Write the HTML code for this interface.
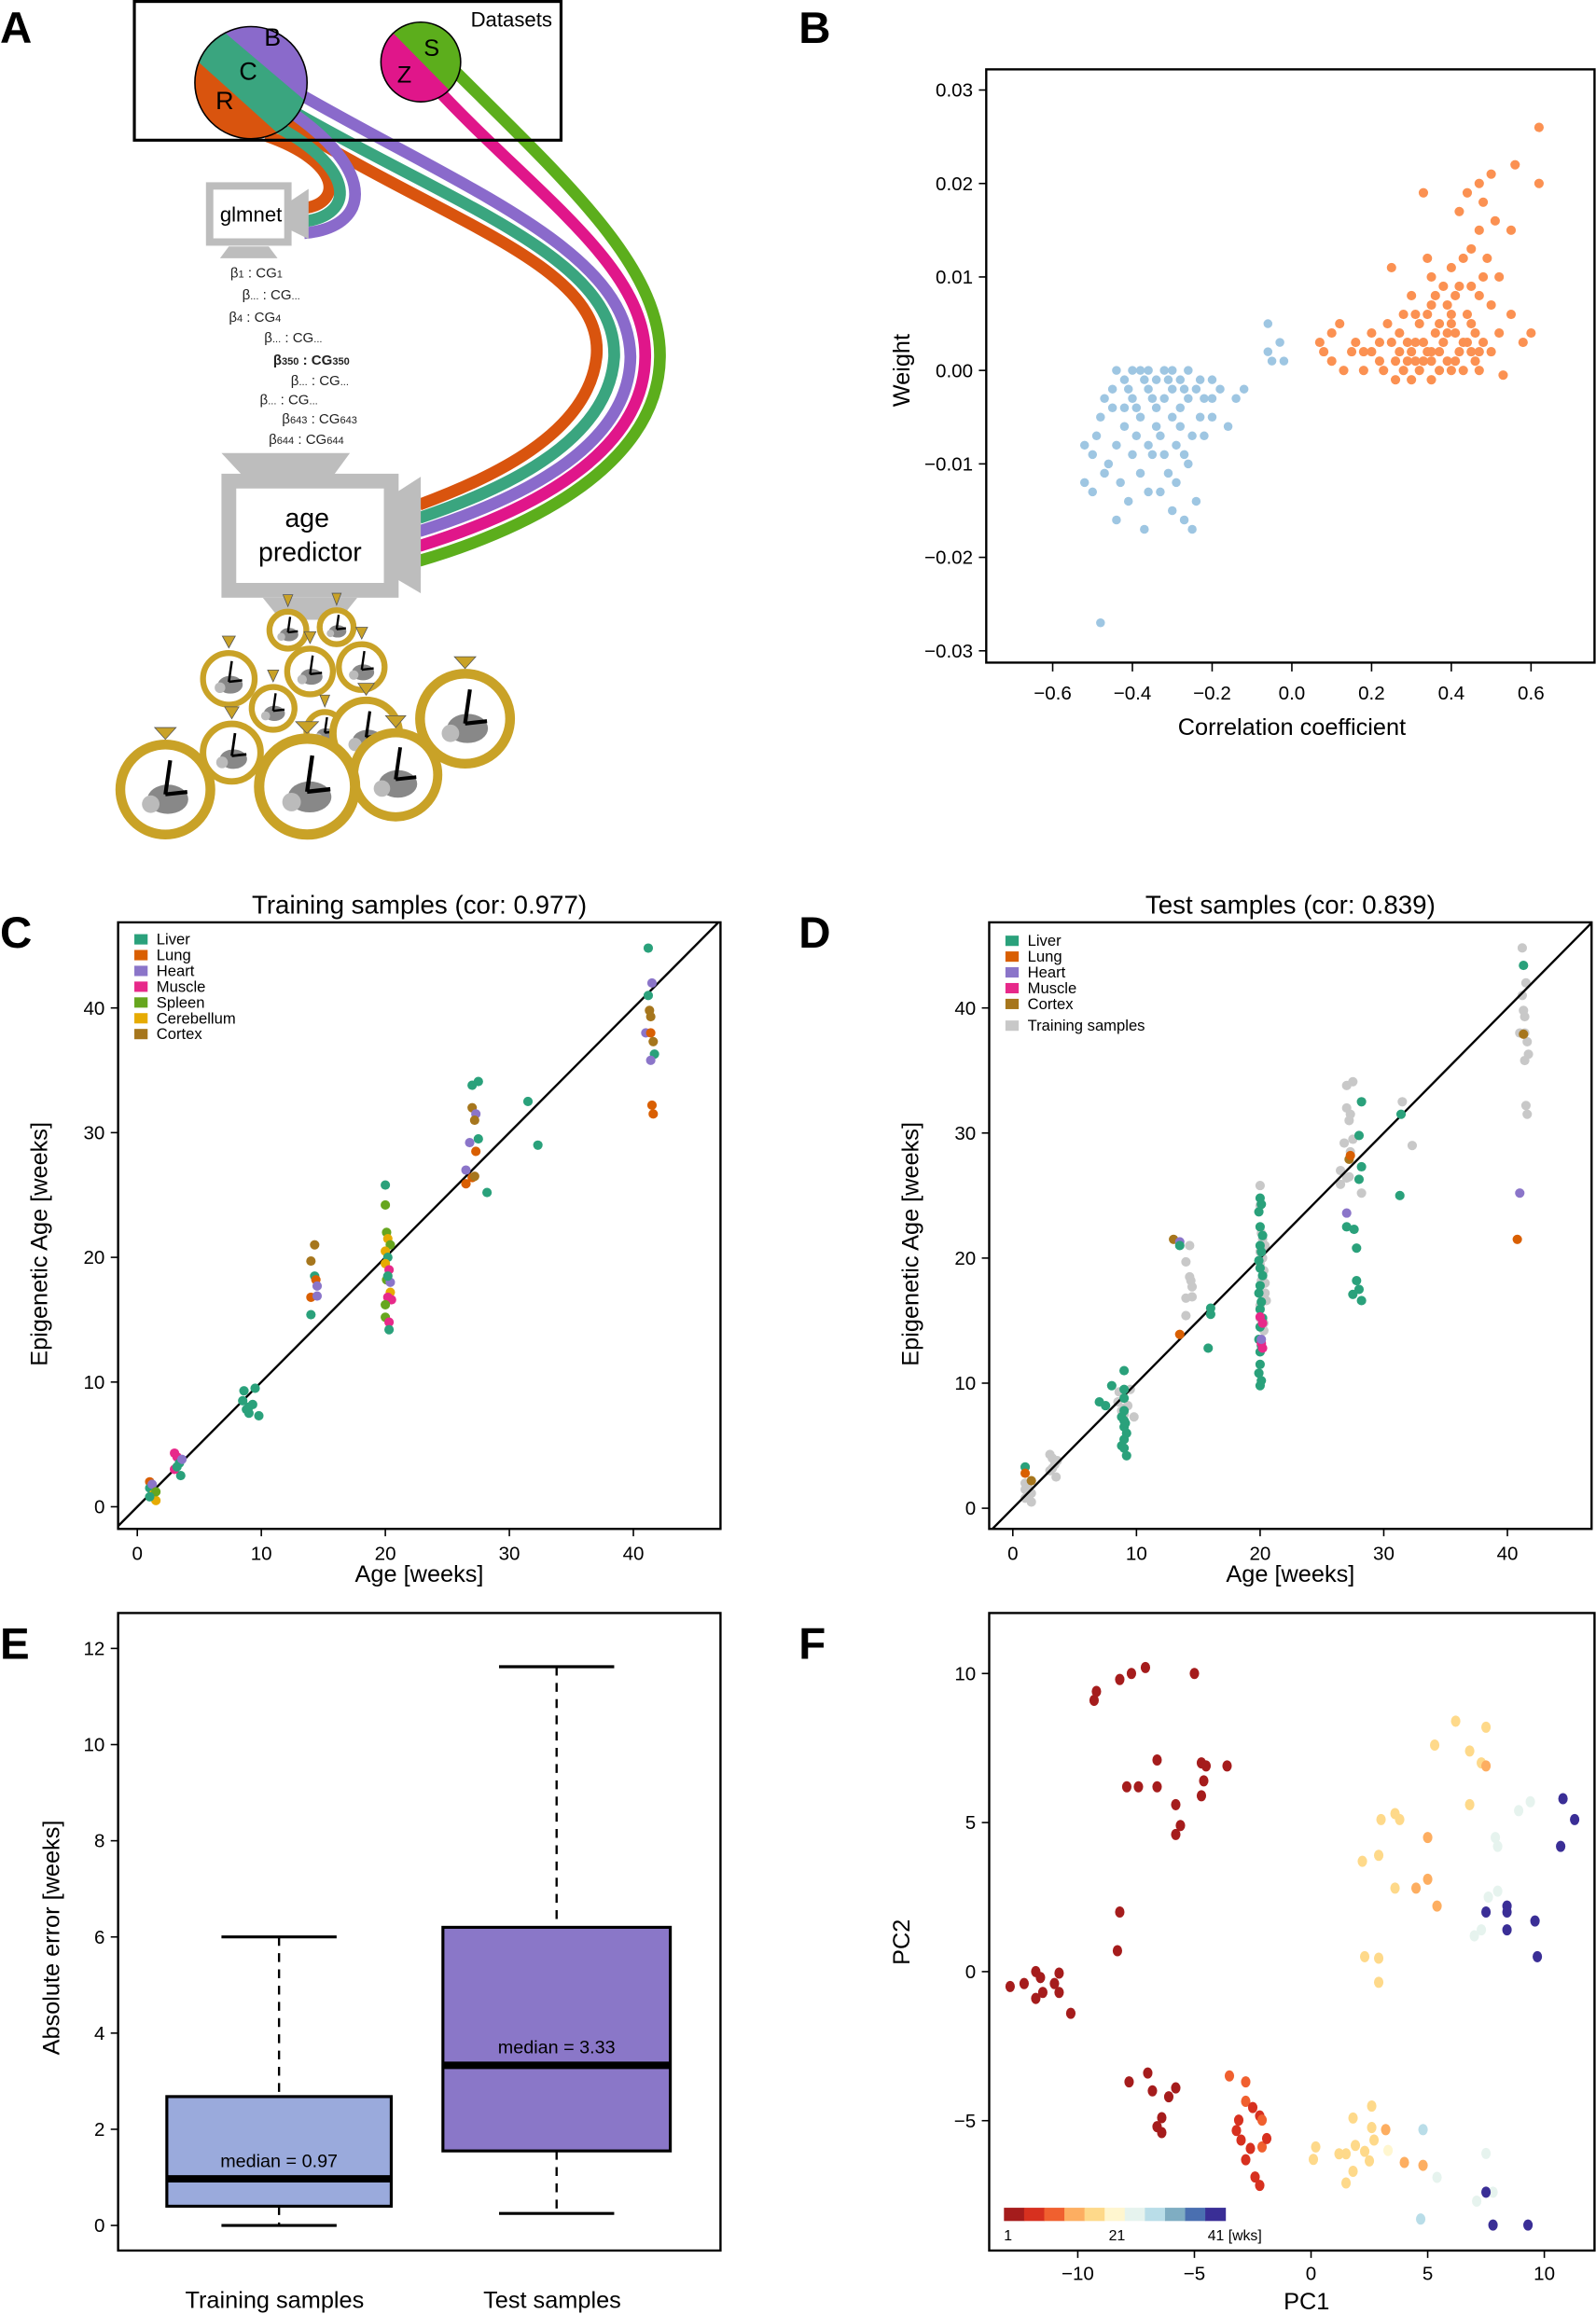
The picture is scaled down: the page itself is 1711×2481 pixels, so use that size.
<!DOCTYPE html>
<html><head><meta charset="utf-8">
<style>
html,body{margin:0;padding:0;background:#fff;}
svg{display:block;font-family:"Liberation Sans",Arial,sans-serif;}
</style></head>
<body>
<svg id="fig" width="1711" height="2481" viewBox="0 0 1081 1568" preserveAspectRatio="none" xmlns="http://www.w3.org/2000/svg">
<!-- panel letters -->
<g font-weight="bold" font-size="30">
<text x="0" y="29">A</text>
<text x="541" y="29">B</text>
<text x="0" y="642">C</text>
<text x="541" y="642">D</text>
<text x="0" y="1124">E</text>
<text x="541" y="1124">F</text>
</g>

<!-- PANEL A diagram -->
<g id="panelA">
 <g fill="none" stroke-width="8" stroke-linecap="butt">
  <path d="M196,84 C300,150 410,180 404,242 C398,295 330,325 284,342" stroke="#d9540e"/>
  <path d="M196,74 C310,140 418,175 416,242 C412,302 334,334 284,351" stroke="#3aa57f"/>
  <path d="M200,62 C318,130 426,170 427,242 C426,308 338,343 284,360" stroke="#8a6acb"/>
  <path d="M292,56 C360,130 438,180 437,242 C436,314 342,352 284,370" stroke="#e0168a"/>
  <path d="M304,44 C380,120 448,180 447,242 C446,320 346,362 284,380" stroke="#5cae1c"/>
  <path d="M180,92 C232,110 232,138 206,141" stroke="#d9540e"/>
  <path d="M188,86 C242,115 240,146 206,150" stroke="#3aa57f"/>
  <path d="M200,78 C256,118 250,154 206,158" stroke="#8a6acb"/>
 </g>
 <rect x="91" y="1" width="289" height="94" fill="none" stroke="#000" stroke-width="2"/>
 <text x="374" y="18" font-size="14" text-anchor="end">Datasets</text>
 <g>
  <clipPath id="cb"><circle cx="170" cy="56" r="38"/></clipPath>
  <g clip-path="url(#cb)">
   <rect x="120" y="10" width="110" height="100" fill="#3aa57f"/>
   <polygon points="138,10 230,10 230,88" fill="#8a6acb"/>
   <polygon points="120,29 230,128 120,128" fill="#d9540e"/>
  </g>
  <circle cx="170" cy="56" r="38" fill="none" stroke="#000" stroke-width="1"/>
  <text x="179" y="31" font-size="17">B</text>
  <text x="162" y="54" font-size="17">C</text>
  <text x="146" y="74" font-size="17">R</text>
 </g>
 <g>
  <clipPath id="cs"><circle cx="285" cy="42" r="27"/></clipPath>
  <g clip-path="url(#cs)">
   <rect x="255" y="12" width="60" height="60" fill="#e0168a"/>
   <polygon points="256,12 315,12 315,72" fill="#5cae1c"/>
  </g>
  <circle cx="285" cy="42" r="27" fill="none" stroke="#000" stroke-width="1"/>
  <text x="287" y="38" font-size="16">S</text>
  <text x="269" y="56" font-size="16">Z</text>
 </g>
 <g>
  <rect x="142" y="126" width="53" height="38" fill="#fff" stroke="#bdbdbd" stroke-width="5"/>
  <polygon points="197,136 209,128 209,162 197,156" fill="#bdbdbd"/>
  <polygon points="155,167 182,167 188,175 149,175" fill="#bdbdbd"/>
  <text x="170" y="150" font-size="14" text-anchor="middle">glmnet</text>
 </g>
 <g font-size="9.5" fill="#222">
  <text x="156" y="188">β<tspan font-size="7">1</tspan> : CG<tspan font-size="7">1</tspan></text>
  <text x="164" y="203">β<tspan font-size="7">...</tspan> : CG<tspan font-size="7">...</tspan></text>
  <text x="155" y="218">β<tspan font-size="7">4</tspan> : CG<tspan font-size="7">4</tspan></text>
  <text x="179" y="232">β<tspan font-size="7">...</tspan> : CG<tspan font-size="7">...</tspan></text>
  <text x="185" y="247" font-weight="bold">β<tspan font-size="7">350</tspan> : CG<tspan font-size="7">350</tspan></text>
  <text x="197" y="261">β<tspan font-size="7">...</tspan> : CG<tspan font-size="7">...</tspan></text>
  <text x="176" y="274">β<tspan font-size="7">...</tspan> : CG<tspan font-size="7">...</tspan></text>
  <text x="191" y="287">β<tspan font-size="7">643</tspan> : CG<tspan font-size="7">643</tspan></text>
  <text x="182" y="301">β<tspan font-size="7">644</tspan> : CG<tspan font-size="7">644</tspan></text>
 </g>
 <g>
  <polygon points="150,307 237,307 226,322 164,322" fill="#bdbdbd"/>
  <rect x="155" y="326" width="110" height="74" fill="#fff" stroke="#bdbdbd" stroke-width="10"/>
  <polygon points="268,334 285,323 285,402 268,392" fill="#bdbdbd"/>
  <polygon points="178,405 242,405 230,420 190,420" fill="#bdbdbd"/>
  <text x="208" y="357" font-size="18" text-anchor="middle">age</text>
  <text x="210" y="380" font-size="18" text-anchor="middle">predictor</text>
 </g>
 <g id="mice"></g>
</g>

<g id="charts"></g>
</svg>

<script>
// ===== Panel B data =====
const bNegCorr = [-0.48,-0.52,-0.52,-0.50,-0.49,-0.48,-0.47,-0.45,-0.44,-0.42,-0.40,-0.38,-0.36,-0.34,-0.32,-0.30,-0.28,-0.26,-0.24,-0.22,-0.20,-0.18,-0.16,-0.14,-0.12,-0.06,-0.06,-0.05,-0.03,-0.02,-0.40,-0.38,-0.36,-0.34,-0.32,-0.30,-0.28,-0.26,-0.42,-0.44,-0.46,-0.40,-0.38,-0.36,-0.35,-0.33,-0.31,-0.29,-0.27,-0.25,-0.23,-0.43,-0.41,-0.44,-0.30,-0.27,-0.24,-0.37,-0.25,-0.50,-0.47,-0.39,-0.34,-0.30,-0.28,-0.22,-0.20,-0.33,-0.42,-0.36,-0.29,-0.26,-0.20,-0.32,-0.41,-0.37,-0.35,-0.31,-0.27,-0.23,-0.45,-0.39];
const bNegWeight = [-0.027,-0.012,-0.008,-0.009,-0.007,-0.005,-0.003,-0.002,0.000,-0.001,0.000,0.000,0.000,-0.001,0.000,0.000,-0.001,0.000,-0.002,-0.003,-0.003,-0.002,-0.006,-0.003,-0.002,0.005,0.002,0.001,0.003,0.001,-0.003,-0.005,-0.002,-0.004,-0.003,-0.005,-0.004,-0.003,-0.006,-0.008,-0.010,-0.009,-0.011,-0.013,-0.009,-0.007,-0.011,-0.012,-0.009,-0.007,-0.005,-0.012,-0.014,-0.016,-0.015,-0.016,-0.014,-0.017,-0.017,-0.013,-0.011,-0.007,-0.006,-0.002,-0.006,-0.007,-0.005,-0.013,-0.004,-0.008,-0.008,-0.010,-0.001,-0.009,-0.002,-0.001,-0.003,-0.001,-0.002,-0.001,-0.004,-0.004];
const bPosCorr = [0.62,0.62,0.56,0.50,0.47,0.48,0.44,0.51,0.47,0.45,0.42,0.33,0.55,0.49,0.52,0.40,0.25,0.35,0.42,0.47,0.50,0.55,0.52,0.58,0.60,0.45,0.40,0.35,0.30,0.28,0.32,0.36,0.38,0.42,0.46,0.48,0.40,0.35,0.30,0.25,0.22,0.20,0.16,0.12,0.10,0.08,0.07,0.10,0.13,0.15,0.18,0.20,0.23,0.26,0.28,0.32,0.34,0.37,0.39,0.41,0.43,0.44,0.47,0.50,0.53,0.27,0.29,0.31,0.33,0.37,0.39,0.41,0.44,0.46,0.24,0.22,0.18,0.35,0.30,0.26,0.38,0.34,0.43,0.36,0.31,0.45,0.48,0.40,0.34,0.29,0.33,0.37,0.41,0.45,0.27,0.31,0.35,0.39,0.43,0.47];
const bPosWeight = [0.026,0.020,0.022,0.021,0.020,0.018,0.019,0.016,0.015,0.013,0.017,0.019,0.015,0.012,0.010,0.011,0.011,0.010,0.009,0.008,0.007,0.006,0.004,0.003,0.004,0.005,0.006,0.007,0.008,0.006,0.005,0.004,0.003,0.002,0.001,0.003,0.000,0.001,0.002,0.003,0.001,0.004,0.003,0.005,0.004,0.002,0.003,0.001,0.000,0.002,0.000,0.002,0.000,0.001,0.000,0.000,0.002,0.000,0.001,0.004,0.000,0.003,0.000,0.002,-0.0005,0.004,0.003,0.006,0.003,0.005,0.007,0.008,0.006,0.004,0.005,0.003,0.002,-0.001,-0.001,-0.001,0.009,0.012,0.012,0.008,0.001,0.009,0.010,0.005,0.006,0.001,0.001,0.002,0.001,0.002,0.002,0.003,0.002,0.004,0.003,0.002];
const bXTicks = [-0.6,-0.4,-0.2,0.0,0.2,0.4,0.6];
const bXTickLabels = ["−0.6","−0.4","−0.2","0.0","0.2","0.4","0.6"];
const bYTicks = [0.03,0.02,0.01,0.00,-0.01,-0.02,-0.03];
const bYTickLabels = ["0.03","0.02","0.01","0.00","−0.01","−0.02","−0.03"];

// ===== Panel C data (training) =====
const tissues = ["Liver","Lung","Heart","Muscle","Spleen","Cerebellum","Cortex"];
const tissueColors = ["#2aa17b","#d95f02","#8b75c9","#e7298a","#66a61e","#e6ab02","#a6761d"];
const cAge = [1,1,1.3,1.5,1.2,1.5,1,3,3.2,3.4,3.5,3,3.6,3.2,8.5,9,9,8.6,9.5,9.8,8.8,9.3,14.3,14,14.3,14.4,14.5,14,14.5,14,20,20,20.1,20.2,20.4,20,20.2,20,20.3,20.1,20.4,20.4,20.2,20.5,20,20,20.3,20.3,20.2,27,27.5,27,27.3,27.2,27.5,26.8,27.3,26.5,27,26.5,27.2,28.2,31.5,32.3,41.2,41.5,41.2,41.3,41.4,41,41.4,41.6,41.7,41.4,41.5,41.6];
const cEpi = [2.0,1.5,1.0,0.5,1.8,1.2,0.8,4.3,4.0,3.5,2.5,3.0,3.8,3.2,8.5,8.0,7.5,9.3,9.5,7.3,7.8,8.2,21,19.7,18.5,18.2,17.7,16.8,16.9,15.4,25.8,24.2,22,21.5,21,20.5,20,19.5,19,18.2,18,17.2,16.8,16.6,16.2,15.2,14.8,14.2,18.5,33.8,34.1,32,31.5,31,29.5,29.2,28.5,27,26.4,25.9,26.5,25.2,32.5,29,44.8,42,41,39.8,39.3,38,38,37.3,36.3,35.8,32.2,31.5];
const cTissue = [1,0,5,5,2,4,0,3,3,0,0,3,2,0,0,0,0,0,0,0,0,0,6,6,0,1,2,1,2,0,0,4,4,5,4,5,0,5,3,4,2,5,3,3,4,4,3,0,0,0,0,6,2,6,0,2,1,2,1,1,6,0,0,0,0,2,0,6,6,2,1,6,0,2,1,1];

// ===== Panel D data (test) =====
const dTissues = ["Liver","Lung","Heart","Muscle","Cortex"];
const dAge = [1,1,1.5,7,7.5,8,9,9,9,9,9,9,9.2,9,8.8,9,9.2,8.8,9.1,13,13.5,13.5,13.5,16,16,15.8,20,20.1,19.9,20,20.2,20,20.1,19.9,20,20.2,20,19.9,20.1,20,20.2,20,19.9,20.1,20,20,19.9,20.1,20,20,20.2,20.1,20.2,20.1,28.2,27.2,27.3,28,28.2,28,27,27,27.6,27.8,27.8,28,27.5,28.2,31.4,31.3,41.3,41.3,41,40.8];
const dEpi = [3.3,2.8,2.2,8.5,8.2,9.8,11,9.5,8.8,7.8,7,6.5,6,5.5,5.0,4.8,4.2,7.3,6.8,21.5,21.3,21.0,13.9,16,15.5,12.8,24.8,24.3,23.7,22.5,21.8,21,20.5,19.8,19.2,18.6,17.8,17.2,16.5,15.9,15.2,14.5,13.5,13,12.5,11.5,10.8,10.2,9.8,15.3,14.8,13.2,12.8,13.5,32.5,27.9,28.2,29.8,27.3,26.3,23.6,22.5,22.3,20.8,18.2,17.5,17.1,16.6,31.5,25.0,43.4,37.9,25.2,21.5];
const dTissue = [0,1,6,0,0,0,0,0,0,0,0,0,0,0,0,0,0,0,0,6,2,0,1,0,0,0,0,0,0,0,0,0,0,0,0,0,0,0,0,0,0,0,0,0,0,0,0,0,0,3,3,3,3,2,0,6,1,0,0,0,2,0,0,0,0,0,0,0,0,0,0,6,2,1];
const axAgeTicks = [0,10,20,30,40];

// ===== Panel E data =====
const eGroups = ["Training samples","Test samples"];
const eWhiskLow = [0,0.25];
const eQ1 = [0.4,1.55];
const eMedian = [0.97,3.33];
const eQ3 = [2.68,6.2];
const eWhiskHigh = [6.0,11.62];
const eFill = ["#9aaadc","#8a77c8"];
const eYTicks = [0,2,4,6,8,10,12];

// ===== Panel F data =====
const fPC1 = [-9.3,-9.2,-8.2,-7.7,-7.1,-5.0,-7.9,-7.4,-6.6,-6.6,-5.8,-5.6,-5.8,-4.7,-4.6,-4.7,-4.5,-3.6,-8.2,-8.3,-12.9,-12.3,-11.8,-11.6,-11.5,-11.8,-11.0,-10.8,-10.8,-10.3,-7.8,-7.0,-6.8,-6.1,-5.8,-6.4,-6.6,-6.4,-3.5,-2.8,-2.8,-2.5,-2.2,-2.1,-3.1,-3.2,-3.0,-2.1,-1.9,-2.6,-2.8,-2.4,-2.2,0.2,0.1,1.2,1.5,1.9,2.3,2.5,2.7,2.6,1.8,1.5,1.8,2.6,3.3,3.2,4.0,4.8,4.8,4.7,5.4,7.5,7.8,7.1,7.5,7.8,9.3,6.2,7.5,5.3,6.8,7.3,7.5,6.8,3.0,3.6,3.8,2.2,2.9,3.6,4.5,5.0,5.4,5.0,2.3,2.9,2.9,8.9,9.4,7.9,8.0,7.6,8.0,7.0,7.3,10.8,11.3,10.7,7.5,8.4,8.4,8.4,9.6,9.7];
const fPC2 = [9.1,9.4,9.8,10.0,10.2,10.0,6.2,6.2,6.2,7.1,5.6,4.9,4.6,5.9,6.4,7.0,6.9,6.9,2.0,0.7,-0.5,-0.4,0.0,-0.2,-0.7,-0.9,-0.4,-0.05,-0.7,-1.4,-3.7,-3.4,-4.0,-4.2,-3.9,-4.9,-5.2,-5.4,-3.5,-3.7,-4.35,-4.56,-4.84,-4.98,-4.98,-5.33,-5.65,-5.88,-5.6,-5.93,-6.31,-6.89,-7.17,-5.88,-6.3,-6.11,-6.11,-5.83,-6.03,-6.35,-5.65,-5.23,-6.7,-7.09,-4.91,-4.51,-6.0,-5.3,-6.4,-6.5,-5.3,-8.3,-6.9,-6.1,-7.4,-7.7,-7.4,-8.5,-8.5,8.4,8.2,7.6,7.4,7.0,6.9,5.6,5.1,5.3,5.1,3.7,3.9,2.8,2.8,3.1,2.2,4.5,0.5,0.45,-0.36,5.4,5.7,4.5,4.2,2.5,2.7,1.2,1.4,5.8,5.1,4.2,2.0,2.2,2.0,1.4,1.7,0.5];
const fAgeBin = [0,0,0,0,0,0,0,0,0,0,0,0,0,0,0,0,0,0,0,0,0,0,0,0,0,0,0,0,0,0,0,0,0,0,0,0,0,0,2,2,2,1,1,2,1,1,1,2,1,1,1,1,1,4,4,4,4,4,4,4,4,4,4,4,4,4,5,3,3,3,7,7,6,6,6,6,10,10,10,4,4,4,4,4,3,4,4,4,4,4,4,4,3,3,3,3,4,4,4,6,6,6,6,6,6,6,6,10,10,10,10,10,10,10,10,10];
const fScale = ["#a51c1c","#d7301f","#f0602f","#fdae61","#fed98a","#fff6cf","#e6f3ee","#b9dde8","#7fadc2","#4a6fb0","#3a2e96"];
const fScaleLabels = ["1","21","41 [wks]"];
const fXTicks = [-10,-5,0,5,10];
const fYTicks = [10,5,0,-5];

const NS = "http://www.w3.org/2000/svg";
const root = document.getElementById("charts");
function mk(tag, attrs, parent){const e=document.createElementNS(NS,tag);for(const k in attrs)e.setAttribute(k,attrs[k]);(parent||root).appendChild(e);return e;}
function lin(d0,d1,r0,r1){return v=>r0+(v-d0)*(r1-r0)/(d1-d0);}

// ---------- Panel B ----------
(function(){
 const g=mk("g",{});
 
 
 const X=lin(0,0.6,875,1037), Y=lin(0,0.03,251,61);
 const box=mk("rect",{x:668,y:47,width:412,height:402,fill:"none",stroke:"#000","stroke-width":1.5},g);
 
 
 bYTicks.forEach((t,i)=>{
  const l=mk("line",{x1:663,x2:668,y1:Y(t),y2:Y(t),stroke:"#000"},g);
  
  
  const tx=mk("text",{x:659,y:Y(t)+4.5,"font-size":13,"text-anchor":"end"},g);tx.textContent=bYTickLabels[i];
  
  
 });
 bXTicks.forEach((t,i)=>{
  const l=mk("line",{x1:X(t),x2:X(t),y1:449,y2:455,stroke:"#000"},g);
  
  
  const tx=mk("text",{x:X(t),y:474,"font-size":13,"text-anchor":"middle"},g);tx.textContent=bXTickLabels[i];
  
  
 });
 const yt=mk("text",{x:616,y:251,"font-size":16,"text-anchor":"middle",transform:"rotate(-90 616 251)"},g);yt.textContent="Weight";
 
 
 const xt=mk("text",{x:875,y:498,"font-size":16,"text-anchor":"middle"},g);xt.textContent="Correlation coefficient";
 
 
 bNegCorr.forEach((v,i)=>{const c=mk("circle",{cx:X(v),cy:Y(bNegWeight[i]),r:3,fill:"#9ec6e2"},g);
  
  });
 bPosCorr.forEach((v,i)=>{const c=mk("circle",{cx:X(v),cy:Y(bPosWeight[i]),r:3.2,fill:"#fb9152"},g);
  
  });
})();

// ---------- Panels C & D ----------
function agePanel(cfg){
 const g=mk("g",{});
 
 
 const X=lin(0,40,cfg.x0,cfg.x40), Y=lin(0,40,cfg.y0,cfg.y40);
 const L=cfg.left,R=cfg.left+408,T=625,B=1036;
 const clip=mk("clipPath",{id:cfg.id+"clip"},g);mk("rect",{x:L,y:T,width:408,height:411},clip);
 const f=mk("rect",{x:L,y:T,width:408,height:411,fill:"none",stroke:"#000","stroke-width":1.5},g);
 
 
 axAgeTicks.forEach(t=>{
  const a=mk("line",{x1:L-5,x2:L,y1:Y(t),y2:Y(t),stroke:"#000"},g);
  
  
  const ty=mk("text",{x:L-9,y:Y(t)+4.5,"font-size":13,"text-anchor":"end"},g);ty.textContent=t;
  
  
  const b=mk("line",{x1:X(t),x2:X(t),y1:B,y2:B+5,stroke:"#000"},g);
  
  
  const tx=mk("text",{x:X(t),y:B+21,"font-size":13,"text-anchor":"middle"},g);tx.textContent=t;
  
  
 });
 const tt=mk("text",{x:(L+R)/2,y:619,"font-size":17.5,"text-anchor":"middle"},g);tt.textContent=cfg.title;
 
 
 const xt=mk("text",{x:(L+R)/2,y:1072,"font-size":16,"text-anchor":"middle"},g);xt.textContent="Age [weeks]";
 
 
 const yx=L-48;
 const yt=mk("text",{x:yx,y:843,"font-size":16,"text-anchor":"middle",transform:`rotate(-90 ${yx} 843)`},g);yt.textContent="Epigenetic Age [weeks]";
 
 
 const pts=mk("g",{"clip-path":`url(#${cfg.id}clip)`},g);
 if(cfg.gray){cAge.forEach((a,i)=>{const c=mk("circle",{cx:X(a),cy:Y(cEpi[i]),r:3.2,fill:"#c8c8c8"},pts);
  
  });}
 const diag=mk("line",{x1:X(-2),y1:Y(-2),x2:X(50),y2:Y(50),stroke:"#000","stroke-width":1.5},pts);
 
 
 cfg.ages.forEach((a,i)=>{const c=mk("circle",{cx:X(a),cy:Y(cfg.epi[i]),r:3.2,fill:tissueColors[cfg.tis[i]]},pts);
  
  });
 const lg=mk("g",{},g);
 
 
 cfg.legend.forEach((e,i)=>{
  const y=cfg.ly+i*10.7+(e.gap||0);
  const r=mk("rect",{x:L+11,y:y-7,width:9,height:7,fill:e.c},lg);
  
  
  const t=mk("text",{x:L+26,y:y,"font-size":10.5},lg);t.textContent=e.t;
  
  
 });
}
agePanel({id:"c",name:"training-scatter-chart",left:80,x0:93,x40:429,y0:1021,y40:683,title:"Training samples (cor: 0.977)",ages:cAge,epi:cEpi,tis:cTissue,gray:false,ly:640,
 legend:tissues.map((t,i)=>({t:t,c:tissueColors[i]}))});
agePanel({id:"d",name:"test-scatter-chart",left:670,x0:686,x40:1021,y0:1022,y40:683,title:"Test samples (cor: 0.839)",ages:dAge,epi:dEpi,tis:dTissue,gray:true,ly:641,
 legend:[{t:"Liver",c:tissueColors[0]},{t:"Lung",c:tissueColors[1]},{t:"Heart",c:tissueColors[2]},{t:"Muscle",c:tissueColors[3]},{t:"Cortex",c:tissueColors[6]},{t:"Training samples",c:"#c8c8c8",gap:4}]});

// ---------- Panel E ----------
(function(){
 const g=mk("g",{});
 
 
 const Y=lin(0,12,1508,1117);
 const f=mk("rect",{x:80,y:1093,width:408,height:432,fill:"none",stroke:"#000","stroke-width":1.5},g);
 
 
 eYTicks.forEach(t=>{
  const l=mk("line",{x1:75,x2:80,y1:Y(t),y2:Y(t),stroke:"#000"},g);
  
  
  const tx=mk("text",{x:71,y:Y(t)+4.5,"font-size":13,"text-anchor":"end"},g);tx.textContent=t;
  
  
 });
 const yt=mk("text",{x:40,y:1313,"font-size":16,"text-anchor":"middle",transform:"rotate(-90 40 1313)"},g);yt.textContent="Absolute error [weeks]";
 
 
 const cx=[189,377], hw=[76,77];
 eGroups.forEach((name,i)=>{
  const w1=mk("line",{x1:cx[i],x2:cx[i],y1:Y(eWhiskHigh[i]),y2:Y(eQ3[i]),stroke:"#000","stroke-width":1.5,"stroke-dasharray":"6,5"},g);
  
  
  const w2=mk("line",{x1:cx[i],x2:cx[i],y1:Y(eQ1[i]),y2:Y(eWhiskLow[i]),stroke:"#000","stroke-width":1.5,"stroke-dasharray":"6,5"},g);
  
  
  [eWhiskHigh[i],eWhiskLow[i]].forEach(v=>{
   const c=mk("line",{x1:cx[i]-39,x2:cx[i]+39,y1:Y(v),y2:Y(v),stroke:"#000","stroke-width":2},g);
   
   
  });
  const b=mk("rect",{x:cx[i]-hw[i],y:Y(eQ3[i]),width:hw[i]*2,height:Y(eQ1[i])-Y(eQ3[i]),fill:eFill[i],stroke:"#000","stroke-width":2},g);
  
  
  const m=mk("line",{x1:cx[i]-hw[i],x2:cx[i]+hw[i],y1:Y(eMedian[i]),y2:Y(eMedian[i]),stroke:"#000","stroke-width":5},g);
  
  
  const mt=mk("text",{x:cx[i],y:Y(eMedian[i])-8,"font-size":12.5,"text-anchor":"middle"},g);mt.textContent="median = "+eMedian[i].toFixed(2);
  
  
  const gl=mk("text",{x:cx[i]-3,y:1564,"font-size":16,"text-anchor":"middle"},g);gl.textContent=name;
  
  
 });
})();

// ---------- Panel F ----------
(function(){
 const g=mk("g",{});
 
 
 const X=lin(0,10,888,1046), Y=lin(0,10,1336,1134);
 const f=mk("rect",{x:670,y:1093,width:410,height:432,fill:"none",stroke:"#000","stroke-width":1.5},g);
 
 
 fYTicks.forEach(t=>{
  const l=mk("line",{x1:665,x2:670,y1:Y(t),y2:Y(t),stroke:"#000"},g);
  
  
  const tx=mk("text",{x:661,y:Y(t)+4.5,"font-size":13,"text-anchor":"end"},g);tx.textContent=t<0?"−"+(-t):t;
  
  
 });
 fXTicks.forEach(t=>{
  const l=mk("line",{x1:X(t),x2:X(t),y1:1525,y2:1530,stroke:"#000"},g);
  
  
  const tx=mk("text",{x:X(t),y:1545,"font-size":13,"text-anchor":"middle"},g);tx.textContent=t<0?"−"+(-t):t;
  
  
 });
 const yt=mk("text",{x:616,y:1316,"font-size":16,"text-anchor":"middle",transform:"rotate(-90 616 1316)"},g);yt.textContent="PC2";
 
 
 const xt=mk("text",{x:885,y:1565,"font-size":16,"text-anchor":"middle"},g);xt.textContent="PC1";
 
 
 fPC1.forEach((v,i)=>{const c=mk("ellipse",{cx:X(v),cy:Y(fPC2[i]),rx:3.2,ry:3.8,fill:fScale[fAgeBin[i]]},g);
  
  });
 const cb=mk("g",{},g);
 
 
 const w=150/fScale.length;
 fScale.forEach((c,i)=>{const r=mk("rect",{x:680+i*w,y:1496,width:w+0.3,height:9,fill:c},cb);
  
  });
 [680,751,818].forEach((x,i)=>{const t=mk("text",{x:x,y:1518,"font-size":10},cb);t.textContent=fScaleLabels[i];
  
  });
})();

// ---------- Mouse clocks (illustration) ----------
(function(){
 const m=document.getElementById("mice");
 const clocks=[[195,427,15],[228,425,14],[155,460,20],[210,455,18],[245,452,18],[185,480,17],[220,495,15],[248,497,25],[157,510,22],[315,487,33],[112,535,33],[268,525,31],[208,533,35]];
 clocks.forEach(c=>{
  const g=mk("g",{},m);
  
  
  mk("polygon",{points:`${c[0]-c[2]*0.22},${c[1]-c[2]-9} ${c[0]+c[2]*0.22},${c[1]-c[2]-9} ${c[0]},${c[1]-c[2]-1}`,fill:"#c9a227",stroke:"#555","stroke-width":0.5},g);
  mk("circle",{cx:c[0],cy:c[1],r:c[2]-2.5,fill:"#fff",stroke:"#c9a227","stroke-width":Math.max(4,c[2]*0.2)},g);
  mk("ellipse",{cx:c[0]+c[2]*0.05,cy:c[1]+c[2]*0.2,rx:c[2]*0.42,ry:c[2]*0.3,fill:"#888"},g);
  mk("circle",{cx:c[0]-c[2]*0.3,cy:c[1]+c[2]*0.3,r:c[2]*0.18,fill:"#bbb"},g);
  mk("line",{x1:c[0],y1:c[1]+c[2]*0.1,x2:c[0]+c[2]*0.1,y2:c[1]-c[2]*0.6,stroke:"#000","stroke-width":Math.max(1.5,c[2]*0.08)},g);
  mk("line",{x1:c[0],y1:c[1]+c[2]*0.1,x2:c[0]+c[2]*0.45,y2:c[1]+c[2]*0.05,stroke:"#000","stroke-width":Math.max(1.5,c[2]*0.08)},g);
 });
})();
</script>
</body></html>
